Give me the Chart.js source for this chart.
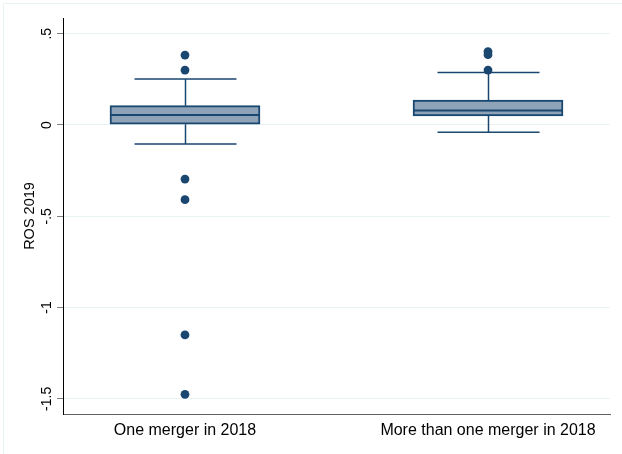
<!DOCTYPE html>
<html>
<head>
<meta charset="utf-8">
<script src="https://cdn.jsdelivr.net/npm/chart.js@4/dist/chart.umd.min.js"></script>
<style>
  html, body { margin: 0; padding: 0; background: #ffffff; }
  #wrap { width: 622px; height: 454px; position: relative; }
</style>
</head>
<body>
<div id="wrap"><canvas id="c" width="622" height="454"></canvas></div>
<script>
// Groups and box summaries of ROS 2019
const categories = ['One merger in 2018', 'More than one merger in 2018'];
const groupPos = [1, 2];
const lowerWhisker = [-0.104, -0.040];
const q1 = [0.004, 0.049];
const median = [0.055, 0.080];
const q3 = [0.106, 0.137];
const upperWhisker = [0.252, 0.287];
const outliersOne = [0.383, 0.301, -0.296, -0.409, -1.150, -1.475];
const outliersMore = [0.402, 0.385, 0.301];
const yTicks = [-1.5, -1, -0.5, 0, 0.5];

const NAVY = '#1a476f';
const BOX_FILL = '#8ea3b8';
const GRID = '#eaf2f3';

Chart.defaults.font.family = '"Liberation Sans", Arial, sans-serif';
Chart.defaults.font.size = 15;
Chart.defaults.color = '#000000';

function fmtTick(v) {
  if (v === 0) return '0';
  const s = String(v);
  return s.replace(/^(-?)0\./, '$1.');
}

// whiskers, caps and medians drawn from the box summaries via the chart scales
const boxParts = {
  id: 'boxParts',
  beforeDraw(chart) {
    const ctx = chart.ctx;
    ctx.save();
    ctx.strokeStyle = GRID;
    ctx.lineWidth = 1;
    ctx.beginPath();
    ctx.moveTo(3.5, 454);
    ctx.lineTo(3.5, 3.5);
    ctx.lineTo(622, 3.5);
    ctx.stroke();
    ctx.restore();
  },
  beforeDatasetsDraw(chart) {
    const { ctx, scales: { x, y } } = chart;
    const capHalf = 51;
    ctx.save();
    ctx.strokeStyle = NAVY;
    ctx.lineWidth = 1.5;
    groupPos.forEach((g, i) => {
      const cx = Math.round(x.getPixelForValue(g)) + 0.5;
      const yLo = y.getPixelForValue(lowerWhisker[i]);
      const yHi = y.getPixelForValue(upperWhisker[i]);
      const yQ1 = y.getPixelForValue(q1[i]);
      const yQ3 = y.getPixelForValue(q3[i]);
      ctx.beginPath();
      ctx.moveTo(cx, yQ3); ctx.lineTo(cx, yHi);
      ctx.moveTo(cx, yQ1); ctx.lineTo(cx, yLo);
      ctx.moveTo(cx - capHalf, yHi); ctx.lineTo(cx + capHalf, yHi);
      ctx.moveTo(cx - capHalf, yLo); ctx.lineTo(cx + capHalf, yLo);
      ctx.stroke();
    });
    ctx.restore();
  },
  afterDatasetsDraw(chart) {
    const { ctx, scales: { x, y } } = chart;
    const half = 75;
    ctx.save();
    ctx.strokeStyle = NAVY;
    ctx.lineWidth = 2;
    groupPos.forEach((g, i) => {
      const cx = x.getPixelForValue(g);
      const ym = y.getPixelForValue(median[i]);
      ctx.beginPath();
      ctx.moveTo(cx - half, ym); ctx.lineTo(cx + half, ym);
      ctx.stroke();
    });
    ctx.restore();
  }
};

const boxData = groupPos.map((g, i) => ({ x: g, y: [q1[i], q3[i]] }));
const outlierData = [
  ...outliersOne.map(v => ({ x: groupPos[0], y: v })),
  ...outliersMore.map(v => ({ x: groupPos[1], y: v }))
];

new Chart(document.getElementById('c'), {
  type: 'bar',
  data: {
    datasets: [
      {
        type: 'bar',
        data: boxData,
        backgroundColor: BOX_FILL,
        borderColor: NAVY,
        borderWidth: 2,
        borderSkipped: false,
        barThickness: 150,
        grouped: false,
        order: 2
      },
      {
        type: 'scatter',
        data: outlierData,
        pointRadius: 4.4,
        pointBackgroundColor: NAVY,
        pointBorderColor: NAVY,
        pointBorderWidth: 0,
        order: 1
      }
    ]
  },
  options: {
    responsive: false,
    animation: false,
    layout: { padding: { top: 18, right: 12, left: 0, bottom: 0 } },
    plugins: { legend: { display: false }, tooltip: { enabled: false } },
    scales: {
      x: {
        type: 'linear',
        min: 0.5974,
        max: 2.4026,
        offset: false,
        bounds: 'ticks',
        afterDataLimits: s => { s.min = 0.5974; s.max = 2.4026; },
        afterBuildTicks: s => { s.ticks = groupPos.map(v => ({ value: v })); },
        afterFit: s => { s.height = 40; },
        ticks: {
          padding: 7,
          maxRotation: 0,
          minRotation: 0,
          font: { size: 16 },
          callback: (v) => categories[groupPos.indexOf(v)] ?? ''
        },
        grid: { display: false, drawTicks: false, offset: false },
        border: { display: true, color: '#606060', width: 1 }
      },
      y: {
        type: 'linear',
        min: -1.583,
        max: 0.586,
        afterBuildTicks: s => { s.ticks = yTicks.map(v => ({ value: v })); },
        afterFit: s => { s.width = 63; },
        ticks: {
          minRotation: 90,
          maxRotation: 90,
          crossAlign: 'center',
          padding: -2,
          font: { size: 14 },
          callback: v => fmtTick(v)
        },
        grid: {
          color: GRID,
          lineWidth: 1,
          tickLength: 6,
          tickColor: '#808080',
          drawOnChartArea: true
        },
        border: { display: true, color: '#000000', width: 1 },
        title: {
          display: true,
          text: 'ROS 2019',
          font: { size: 14.5 },
          padding: { top: 21, bottom: 0 }
        }
      }
    }
  },
  plugins: [boxParts]
});
</script>
</body>
</html>
